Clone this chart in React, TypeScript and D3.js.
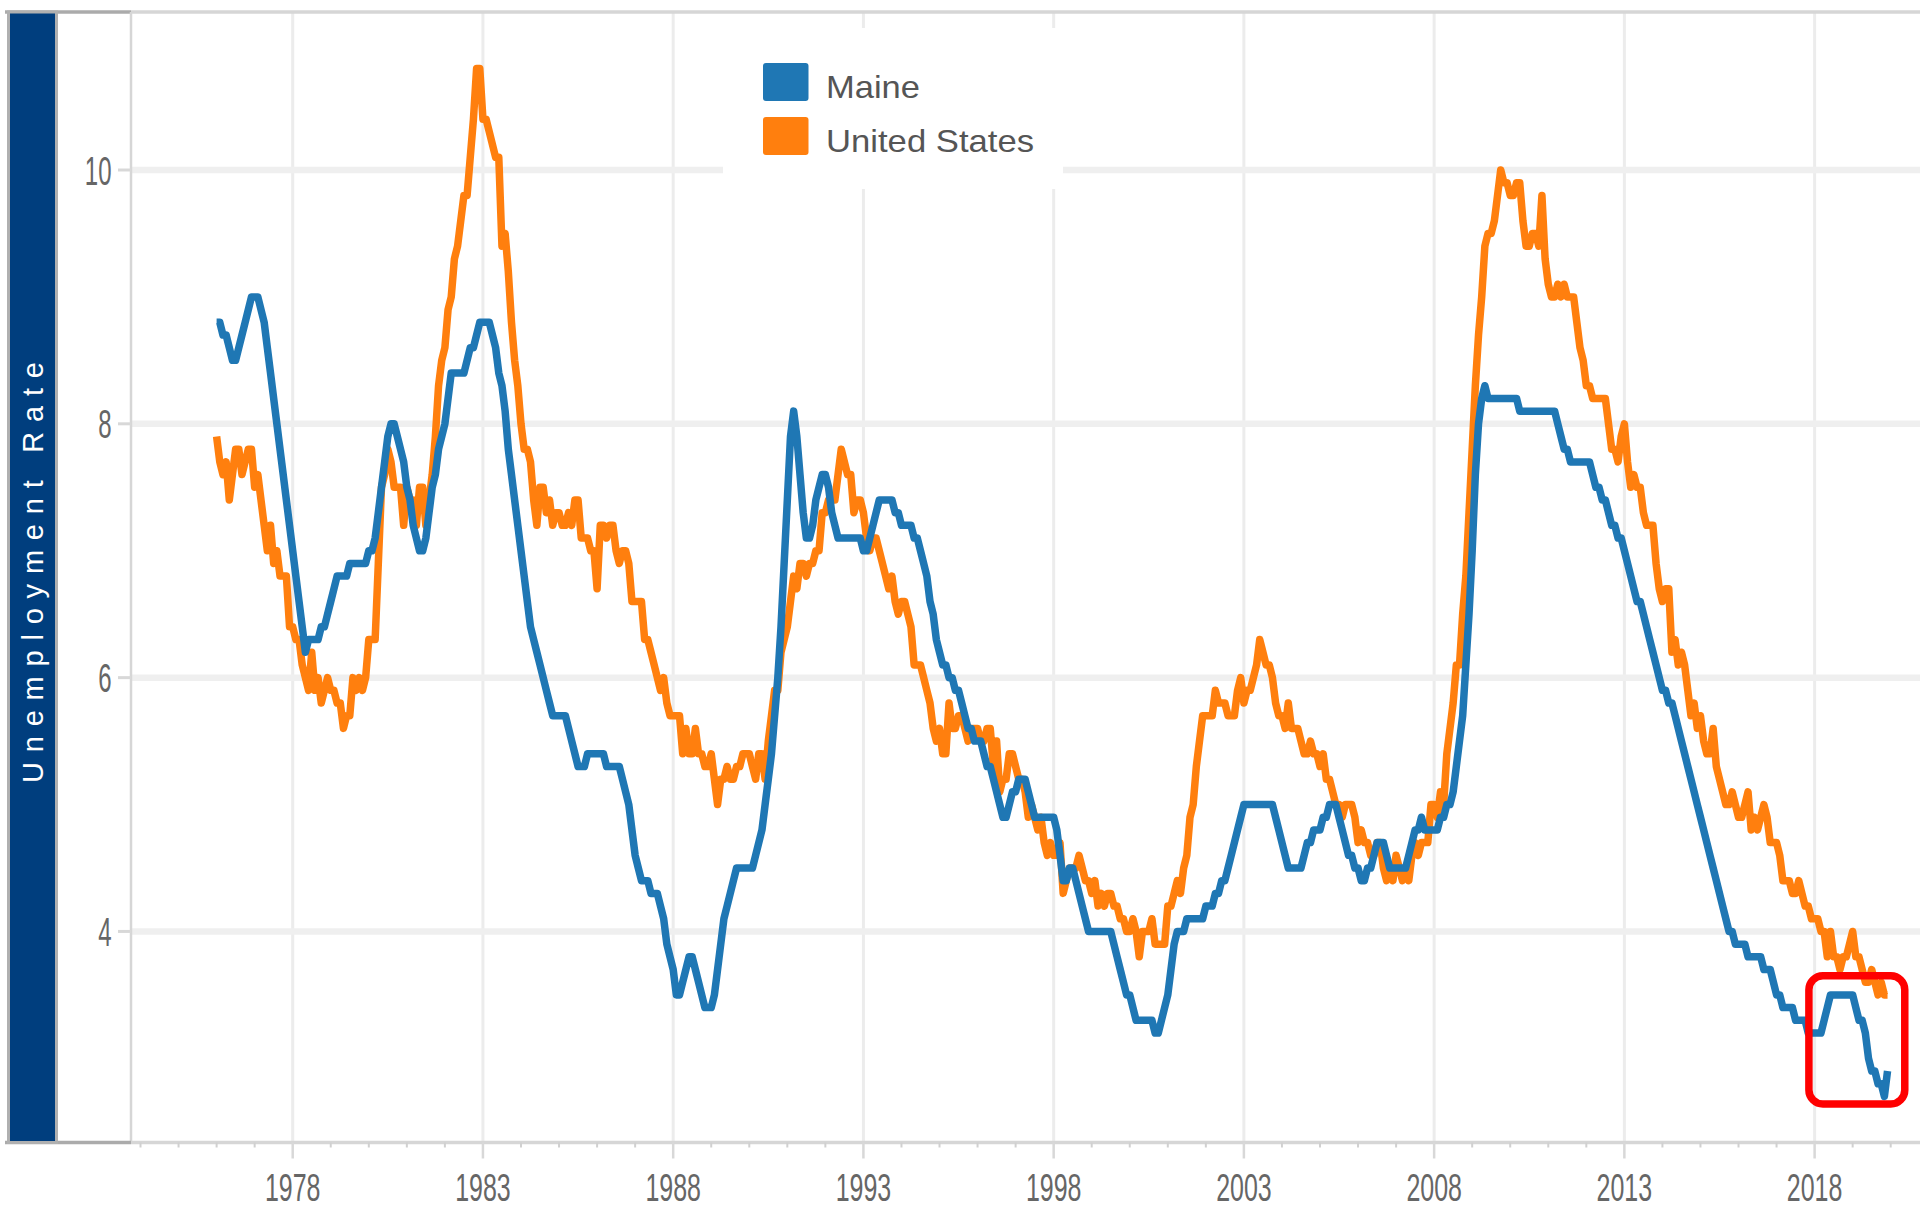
import { useMemo } from "react";
import * as d3 from "d3";

const WIDTH = 1920;
const HEIGHT = 1210;

const START_YEAR = 1976; // first monthly value is January 1976

const SERIES_NAMES = ["Maine", "United States"];
const SERIES_COLORS = ["#1f77b4", "#ff7f0e"];

const YEAR_TICKS = [1978, 1983, 1988, 1993, 1998, 2003, 2008, 2013, 2018];
const MINOR_YEARS = d3.range(1974, 2021);
const RATE_TICKS = [4, 6, 8, 10];

// monthly unemployment rate, Jan 1976 - Dec 2019
const maineRate = [
  8.8, 8.8, 8.7, 8.7, 8.6, 8.5, 8.5, 8.6, 8.7, 8.8, 8.9, 9.0,
  9.0, 9.0, 8.9, 8.8, 8.6, 8.4, 8.2, 8.0, 7.8, 7.6, 7.4, 7.2,
  7.0, 6.8, 6.6, 6.4, 6.2, 6.3, 6.3, 6.3, 6.3, 6.4, 6.4, 6.5,
  6.6, 6.7, 6.8, 6.8, 6.8, 6.8, 6.9, 6.9, 6.9, 6.9, 6.9, 6.9,
  7.0, 7.0, 7.1, 7.3, 7.5, 7.7, 7.9, 8.0, 8.0, 7.9, 7.8, 7.7,
  7.5, 7.4, 7.2, 7.1, 7.0, 7.0, 7.1, 7.3, 7.5, 7.6, 7.8, 7.9,
  8.0, 8.2, 8.4, 8.4, 8.4, 8.4, 8.4, 8.5, 8.6, 8.6, 8.7, 8.8,
  8.8, 8.8, 8.8, 8.7, 8.6, 8.4, 8.3, 8.1, 7.8, 7.6, 7.4, 7.2,
  7.0, 6.8, 6.6, 6.4, 6.3, 6.2, 6.1, 6.0, 5.9, 5.8, 5.7, 5.7,
  5.7, 5.7, 5.7, 5.6, 5.5, 5.4, 5.3, 5.3, 5.3, 5.4, 5.4, 5.4,
  5.4, 5.4, 5.4, 5.3, 5.3, 5.3, 5.3, 5.3, 5.2, 5.1, 5.0, 4.8,
  4.6, 4.5, 4.4, 4.4, 4.4, 4.3, 4.3, 4.3, 4.2, 4.1, 3.9, 3.8,
  3.7, 3.5, 3.5, 3.6, 3.7, 3.8, 3.8, 3.7, 3.6, 3.5, 3.4, 3.4,
  3.4, 3.5, 3.7, 3.9, 4.1, 4.2, 4.3, 4.4, 4.5, 4.5, 4.5, 4.5,
  4.5, 4.5, 4.6, 4.7, 4.8, 5.0, 5.2, 5.4, 5.7, 6.0, 6.4, 6.9,
  7.4, 7.9, 8.1, 7.9, 7.6, 7.3, 7.1, 7.1, 7.2, 7.4, 7.5, 7.6,
  7.6, 7.5, 7.3, 7.2, 7.1, 7.1, 7.1, 7.1, 7.1, 7.1, 7.1, 7.1,
  7.0, 7.0, 7.1, 7.2, 7.3, 7.4, 7.4, 7.4, 7.4, 7.4, 7.3, 7.3,
  7.2, 7.2, 7.2, 7.2, 7.1, 7.1, 7.0, 6.9, 6.8, 6.6, 6.5, 6.3,
  6.2, 6.1, 6.1, 6.0, 6.0, 5.9, 5.9, 5.8, 5.7, 5.6, 5.6, 5.5,
  5.5, 5.5, 5.4, 5.3, 5.3, 5.2, 5.1, 5.0, 4.9, 4.9, 5.0, 5.1,
  5.1, 5.2, 5.2, 5.2, 5.1, 5.0, 4.9, 4.9, 4.9, 4.9, 4.9, 4.9,
  4.9, 4.8, 4.6, 4.4, 4.4, 4.5, 4.5, 4.4, 4.3, 4.2, 4.1, 4.0,
  4.0, 4.0, 4.0, 4.0, 4.0, 4.0, 4.0, 3.9, 3.8, 3.7, 3.6, 3.5,
  3.5, 3.4, 3.3, 3.3, 3.3, 3.3, 3.3, 3.3, 3.2, 3.2, 3.3, 3.4,
  3.5, 3.7, 3.9, 4.0, 4.0, 4.0, 4.1, 4.1, 4.1, 4.1, 4.1, 4.1,
  4.2, 4.2, 4.2, 4.3, 4.3, 4.4, 4.4, 4.5, 4.6, 4.7, 4.8, 4.9,
  5.0, 5.0, 5.0, 5.0, 5.0, 5.0, 5.0, 5.0, 5.0, 5.0, 4.9, 4.8,
  4.7, 4.6, 4.5, 4.5, 4.5, 4.5, 4.5, 4.6, 4.7, 4.7, 4.8, 4.8,
  4.8, 4.9, 4.9, 5.0, 5.0, 5.0, 4.9, 4.8, 4.7, 4.6, 4.6, 4.5,
  4.5, 4.4, 4.4, 4.5, 4.5, 4.6, 4.7, 4.7, 4.7, 4.6, 4.5, 4.5,
  4.5, 4.5, 4.5, 4.5, 4.6, 4.7, 4.8, 4.8, 4.9, 4.8, 4.8, 4.8,
  4.8, 4.8, 4.9, 4.9, 5.0, 5.0, 5.1, 5.3, 5.5, 5.7, 6.1, 6.5,
  7.0, 7.6, 8.0, 8.2, 8.3, 8.2, 8.2, 8.2, 8.2, 8.2, 8.2, 8.2,
  8.2, 8.2, 8.2, 8.1, 8.1, 8.1, 8.1, 8.1, 8.1, 8.1, 8.1, 8.1,
  8.1, 8.1, 8.1, 8.0, 7.9, 7.8, 7.8, 7.7, 7.7, 7.7, 7.7, 7.7,
  7.7, 7.7, 7.6, 7.5, 7.5, 7.4, 7.4, 7.3, 7.2, 7.2, 7.1, 7.1,
  7.0, 6.9, 6.8, 6.7, 6.6, 6.6, 6.5, 6.4, 6.3, 6.2, 6.1, 6.0,
  5.9, 5.9, 5.8, 5.8, 5.7, 5.6, 5.5, 5.4, 5.3, 5.2, 5.1, 5.0,
  4.9, 4.8, 4.7, 4.6, 4.5, 4.4, 4.3, 4.2, 4.1, 4.0, 4.0, 3.9,
  3.9, 3.9, 3.9, 3.8, 3.8, 3.8, 3.8, 3.8, 3.7, 3.7, 3.7, 3.6,
  3.5, 3.5, 3.4, 3.4, 3.4, 3.4, 3.3, 3.3, 3.3, 3.3, 3.2, 3.2,
  3.2, 3.2, 3.2, 3.3, 3.4, 3.5, 3.5, 3.5, 3.5, 3.5, 3.5, 3.5,
  3.5, 3.4, 3.3, 3.3, 3.2, 3.0, 2.9, 2.9, 2.8, 2.8, 2.7, 2.9,
];

const usRate = [
  7.9, 7.7, 7.6, 7.7, 7.4, 7.6, 7.8, 7.8, 7.6, 7.7, 7.8, 7.8,
  7.5, 7.6, 7.4, 7.2, 7.0, 7.2, 6.9, 7.0, 6.8, 6.8, 6.8, 6.4,
  6.4, 6.3, 6.3, 6.1, 6.0, 5.9, 6.2, 5.9, 6.0, 5.8, 5.9, 6.0,
  5.9, 5.9, 5.8, 5.8, 5.6, 5.7, 5.7, 6.0, 5.9, 6.0, 5.9, 6.0,
  6.3, 6.3, 6.3, 6.9, 7.5, 7.6, 7.8, 7.7, 7.5, 7.5, 7.5, 7.2,
  7.5, 7.4, 7.4, 7.2, 7.5, 7.5, 7.2, 7.4, 7.6, 7.9, 8.3, 8.5,
  8.6, 8.9, 9.0, 9.3, 9.4, 9.6, 9.8, 9.8, 10.1, 10.4, 10.8, 10.8,
  10.4, 10.4, 10.3, 10.2, 10.1, 10.1, 9.4, 9.5, 9.2, 8.8, 8.5, 8.3,
  8.0, 7.8, 7.8, 7.7, 7.4, 7.2, 7.5, 7.5, 7.3, 7.4, 7.2, 7.3,
  7.3, 7.2, 7.2, 7.3, 7.2, 7.4, 7.4, 7.1, 7.1, 7.1, 7.0, 7.0,
  6.7, 7.2, 7.2, 7.1, 7.2, 7.2, 7.0, 6.9, 7.0, 7.0, 6.9, 6.6,
  6.6, 6.6, 6.6, 6.3, 6.3, 6.2, 6.1, 6.0, 5.9, 6.0, 5.8, 5.7,
  5.7, 5.7, 5.7, 5.4, 5.6, 5.4, 5.4, 5.6, 5.4, 5.4, 5.3, 5.3,
  5.4, 5.2, 5.0, 5.2, 5.2, 5.3, 5.2, 5.2, 5.3, 5.3, 5.4, 5.4,
  5.4, 5.3, 5.2, 5.4, 5.4, 5.2, 5.5, 5.7, 5.9, 5.9, 6.2, 6.3,
  6.4, 6.6, 6.8, 6.7, 6.9, 6.9, 6.8, 6.9, 6.9, 7.0, 7.0, 7.3,
  7.3, 7.4, 7.4, 7.4, 7.6, 7.8, 7.7, 7.6, 7.6, 7.3, 7.4, 7.4,
  7.3, 7.1, 7.0, 7.1, 7.1, 7.0, 6.9, 6.8, 6.7, 6.8, 6.6, 6.5,
  6.6, 6.6, 6.5, 6.4, 6.1, 6.1, 6.1, 6.0, 5.9, 5.8, 5.6, 5.5,
  5.6, 5.4, 5.4, 5.8, 5.6, 5.6, 5.7, 5.7, 5.6, 5.5, 5.6, 5.6,
  5.6, 5.5, 5.5, 5.6, 5.6, 5.3, 5.5, 5.1, 5.2, 5.2, 5.4, 5.4,
  5.3, 5.2, 5.2, 5.1, 4.9, 5.0, 4.9, 4.8, 4.9, 4.7, 4.6, 4.7,
  4.6, 4.6, 4.7, 4.3, 4.4, 4.5, 4.5, 4.5, 4.6, 4.5, 4.4, 4.4,
  4.3, 4.4, 4.2, 4.3, 4.2, 4.3, 4.3, 4.2, 4.2, 4.1, 4.1, 4.0,
  4.0, 4.1, 4.0, 3.8, 4.0, 4.0, 4.0, 4.1, 3.9, 3.9, 3.9, 3.9,
  4.2, 4.2, 4.3, 4.4, 4.3, 4.5, 4.6, 4.9, 5.0, 5.3, 5.5, 5.7,
  5.7, 5.7, 5.7, 5.9, 5.8, 5.8, 5.8, 5.7, 5.7, 5.7, 5.9, 6.0,
  5.8, 5.9, 5.9, 6.0, 6.1, 6.3, 6.2, 6.1, 6.1, 6.0, 5.8, 5.7,
  5.7, 5.6, 5.8, 5.6, 5.6, 5.6, 5.5, 5.4, 5.4, 5.5, 5.4, 5.4,
  5.3, 5.4, 5.2, 5.2, 5.1, 5.0, 5.0, 4.9, 5.0, 5.0, 5.0, 4.9,
  4.7, 4.8, 4.7, 4.7, 4.6, 4.6, 4.7, 4.7, 4.5, 4.4, 4.5, 4.4,
  4.6, 4.5, 4.4, 4.5, 4.4, 4.6, 4.7, 4.6, 4.7, 4.7, 4.7, 5.0,
  5.0, 4.9, 5.1, 5.0, 5.4, 5.6, 5.8, 6.1, 6.1, 6.5, 6.8, 7.3,
  7.8, 8.3, 8.7, 9.0, 9.4, 9.5, 9.5, 9.6, 9.8, 10.0, 9.9, 9.9,
  9.8, 9.8, 9.9, 9.9, 9.6, 9.4, 9.4, 9.5, 9.5, 9.4, 9.8, 9.3,
  9.1, 9.0, 9.0, 9.1, 9.0, 9.1, 9.0, 9.0, 9.0, 8.8, 8.6, 8.5,
  8.3, 8.3, 8.2, 8.2, 8.2, 8.2, 8.2, 8.0, 7.8, 7.8, 7.7, 7.9,
  8.0, 7.7, 7.5, 7.6, 7.5, 7.5, 7.3, 7.2, 7.2, 7.2, 6.9, 6.7,
  6.6, 6.7, 6.7, 6.2, 6.3, 6.1, 6.2, 6.1, 5.9, 5.7, 5.8, 5.6,
  5.7, 5.5, 5.4, 5.4, 5.6, 5.3, 5.2, 5.1, 5.0, 5.0, 5.1, 5.0,
  4.9, 4.9, 5.0, 5.1, 4.8, 4.9, 4.8, 4.9, 5.0, 4.9, 4.7, 4.7,
  4.7, 4.6, 4.4, 4.4, 4.4, 4.3, 4.3, 4.4, 4.3, 4.2, 4.2, 4.1,
  4.1, 4.1, 4.0, 4.0, 3.8, 4.0, 3.8, 3.8, 3.7, 3.8, 3.8, 3.9,
  4.0, 3.8, 3.8, 3.7, 3.6, 3.6, 3.7, 3.6, 3.5, 3.6, 3.5, 3.5,
];

// the red box drawn around the latest Maine readings (years / rate)
const highlightYears = [2017.85, 2020.37];
const highlightRates = [2.64, 3.65];

const FONT = "'Liberation Sans', Arial, sans-serif";

export default function App() {
  const margin = { top: 12, right: 0, bottom: 67.5, left: 131 };
  const plotBottom = HEIGHT - margin.bottom;

  const x = useMemo(
    () => d3.scaleLinear().domain([1973.75, 2020.77]).range([margin.left, WIDTH - margin.right]),
    []
  );
  const y = useMemo(
    () => d3.scaleLinear().domain([2.337, 11.245]).range([plotBottom, margin.top]),
    []
  );

  const lines = useMemo(() => {
    const line = d3
      .line<number>()
      .x((_, i) => x(START_YEAR + i / 12))
      .y((d) => y(d));
    return [line(maineRate) ?? "", line(usRate) ?? ""];
  }, [x, y]);

  const hx0 = x(highlightYears[0]);
  const hx1 = x(highlightYears[1]);
  const hy0 = y(highlightRates[1]);
  const hy1 = y(highlightRates[0]);

  const legendX = 723;
  const legendY = 28;

  return (
    <svg
      width={WIDTH}
      height={HEIGHT}
      viewBox={`0 0 ${WIDTH} ${HEIGHT}`}
      style={{ position: "absolute", left: 0, top: 0, display: "block", background: "#fff" }}
      fontFamily={FONT}
    >
      <rect x={0} y={0} width={WIDTH} height={HEIGHT} fill="#fff" />

      {/* vertical gridlines */}
      {YEAR_TICKS.map((yr) => (
        <line
          key={`vg${yr}`}
          x1={x(yr)}
          x2={x(yr)}
          y1={margin.top}
          y2={plotBottom}
          stroke="#ececec"
          strokeWidth={3}
        />
      ))}
      {/* horizontal gridlines */}
      {RATE_TICKS.map((r) => (
        <line
          key={`hg${r}`}
          x1={margin.left}
          x2={WIDTH}
          y1={y(r)}
          y2={y(r)}
          stroke="#efefef"
          strokeWidth={6.5}
        />
      ))}

      {/* legend */}
      <rect x={legendX} y={legendY} width={340} height={161} fill="#fff" />
      {SERIES_NAMES.map((name, i) => (
        <g key={name} transform={`translate(${legendX + 40},${legendY + 35 + i * 54})`}>
          <rect width={45.5} height={38} rx={3} fill={SERIES_COLORS[i]} />
          <text
            x={63}
            y={35}
            fontSize={32}
            fill="#555"
            textLength={i === 0 ? 94 : 208}
            lengthAdjust="spacingAndGlyphs"
          >
            {name}
          </text>
        </g>
      ))}

      {/* series: US below, Maine on top */}
      <path d={lines[1]} fill="none" stroke={SERIES_COLORS[1]} strokeWidth={7.5} strokeLinejoin="round" />
      <path d={lines[0]} fill="none" stroke={SERIES_COLORS[0]} strokeWidth={7.5} strokeLinejoin="round" />

      {/* highlight box */}
      <rect
        x={hx0}
        y={hy0}
        width={hx1 - hx0}
        height={hy1 - hy0}
        rx={14}
        fill="none"
        stroke="#ff0000"
        strokeWidth={7.5}
      />

      {/* frame */}
      <line x1={margin.left} x2={WIDTH} y1={margin.top} y2={margin.top} stroke="#d6d6d6" strokeWidth={3.5} />
      <line x1={5} x2={margin.left} y1={margin.top} y2={margin.top} stroke="#ababab" strokeWidth={3.5} />
      <line x1={margin.left} x2={margin.left} y1={margin.top} y2={plotBottom} stroke="#d6d6d6" strokeWidth={2.5} />
      <line x1={margin.left} x2={WIDTH} y1={plotBottom} y2={plotBottom} stroke="#d6d6d6" strokeWidth={3.5} />
      <line x1={5} x2={margin.left} y1={plotBottom} y2={plotBottom} stroke="#ababab" strokeWidth={3.5} />

      {/* y axis title bar */}
      <rect x={8.5} y={margin.top} width={48} height={plotBottom - margin.top} fill="#003e7e" stroke="#b0b0b0" strokeWidth={3} />
      <text
        transform={`translate(43,572.5) rotate(-90)`}
        textAnchor="middle"
        fontSize={29}
        fill="#fff"
        textLength={421}
        lengthAdjust="spacing"
      >
        Unemployment Rate
      </text>

      {/* y ticks */}
      {RATE_TICKS.map((r) => (
        <g key={`yt${r}`}>
          <line x1={118} x2={margin.left} y1={y(r)} y2={y(r)} stroke="#d8d8d8" strokeWidth={3} />
          <text
            transform={`translate(111.5,${y(r) + 14.5}) scale(0.6,1)`}
            textAnchor="end"
            fontSize={40}
            fill="#666"
          >
            {r}
          </text>
        </g>
      ))}

      {/* x ticks */}
      {MINOR_YEARS.filter((yr) => !YEAR_TICKS.includes(yr)).map((yr) => (
        <line key={`mt${yr}`} x1={x(yr)} x2={x(yr)} y1={plotBottom} y2={plotBottom + 5} stroke="#d0d0d0" strokeWidth={2} />
      ))}
      {YEAR_TICKS.map((yr) => (
        <g key={`xt${yr}`}>
          <line x1={x(yr)} x2={x(yr)} y1={plotBottom} y2={plotBottom + 16} stroke="#d8d8d8" strokeWidth={2.5} />
          <text
            transform={`translate(${x(yr)},1201) scale(0.64,1)`}
            textAnchor="middle"
            fontSize={39}
            fill="#666"
          >
            {yr}
          </text>
        </g>
      ))}
    </svg>
  );
}
